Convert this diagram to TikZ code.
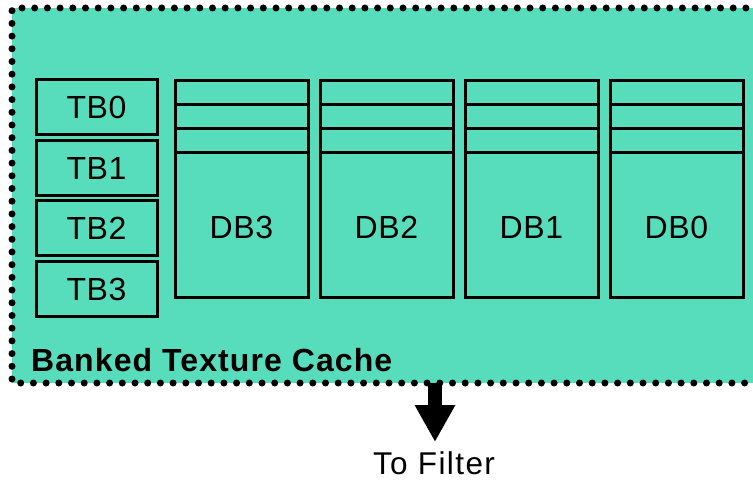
\documentclass[tikz,border=0pt]{standalone}
\usepackage{fontspec}
\setmainfont{Liberation Sans}
\usetikzlibrary{arrows.meta}
\definecolor{cachefill}{RGB}{88,221,188}
\tikzset{
  bank/.style={draw=black, line width=3pt, fill=cachefill, inner sep=0pt, outer sep=0pt, anchor=north west},
  tbox/.style={bank, minimum width=121pt, minimum height=55pt, font=\fontsize{32}{38}\selectfont\addfontfeature{LetterSpace=2}},
  dbox/.style={bank, minimum width=133pt, minimum height=217pt},
  dlabel/.style={font=\fontsize{32}{38}\selectfont\addfontfeature{LetterSpace=2}, inner sep=0pt},
  sepline/.style={line width=3pt},
  border/.style={line width=7pt, line cap=round, dash pattern=on 0pt off 12.7pt},
  bigarrow/.style={line width=14pt, -{Triangle[width=38pt,length=37pt]}}
}
\begin{document}
\begin{tikzpicture}[x=1pt,y=-1pt]
\useasboundingbox (0,0) rectangle (753,481);
\clip (0,0) rectangle (753,481);
% cache area
\coordinate (cacheNW) at (12,8);
\coordinate (cacheSE) at (770,383);
\fill[cachefill] (cacheNW) rectangle (cacheSE);
% TB boxes
\node[tbox] (tb0) at (36,80) {TB0};
\node[tbox] (tb1) at (36,140.5) {TB1};
\node[tbox] (tb2) at (36,201) {TB2};
\node[tbox] (tb3) at (36,262) {TB3};
% DB boxes
\foreach \x/\n in {175/3,320/2,465/1,610/0}{
  \node[dbox] (db\n) at (\x,81) {};
  \draw[sepline] ([yshift=-24pt]db\n.north west) -- ([yshift=-24pt]db\n.north east);
  \draw[sepline] ([yshift=-48pt]db\n.north west) -- ([yshift=-48pt]db\n.north east);
  \draw[sepline] ([yshift=-72pt]db\n.north west) -- ([yshift=-72pt]db\n.north east);
  \node[dlabel] (dbl\n) at ([yshift=-146pt]db\n.north) {DB\n};
}
% label
\node[anchor=base west, inner sep=0pt, font=\fontsize{32}{38}\selectfont\bfseries\addfontfeature{LetterSpace=3.4}] (cachelabel) at (31,371.5) {Banked Texture Cache};
% arrow
\coordinate (arrowstart) at (435,383);
\coordinate (arrowend) at (435,442);
\node[anchor=base, inner sep=0pt, font=\fontsize{31.5}{37}\selectfont\addfontfeature{LetterSpace=4.5}] (tofilter) at (434,474) {To Filter};
\draw[bigarrow] (arrowstart) -- (arrowend);
% dotted border
\draw[border] (cacheSE) -| (cacheNW) -| (cacheSE);
\end{tikzpicture}
\end{document}
